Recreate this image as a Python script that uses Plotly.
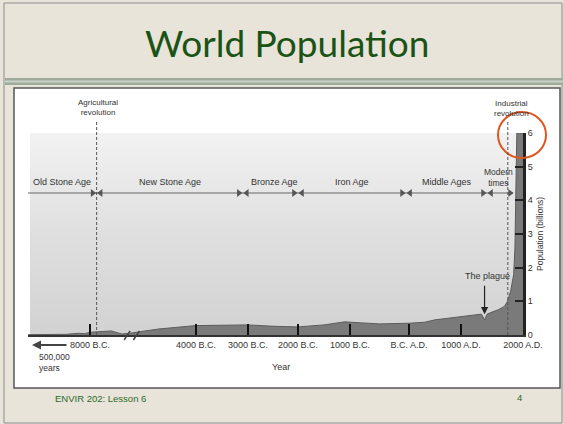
import numpy as np
import plotly.graph_objects as go

W, H = 563, 424

# population curve (billions)
pop_years = [-500000, -200000, -100000, -50000, -8000, -7200, -6800, -6500, -6100, -5400,
             -4000, -3500, -3000, -2500, -2000, -1500, -1100, -800, -500, 0, 300, 500,
             1000, 1200, 1330, 1380, 1420, 1500, 1600, 1700, 1750, 1800, 1850, 1870,
             1885, 1900, 2000]
pop_billions = [0.01, 0.02, 0.05, 0.04, 0.08, 0.12, 0.03, 0.05, 0.1, 0.18,
                0.28, 0.3, 0.3, 0.26, 0.24, 0.3, 0.39, 0.36, 0.33, 0.35, 0.38, 0.45,
                0.54, 0.58, 0.62, 0.45, 0.62, 0.68, 0.75, 0.85, 1.0, 1.3, 1.8, 2.6,
                4.0, 6.0, 6.0]

tick_years = [-8000, -4000, -3000, -2000, -1000, 0, 1000, 2000]
tick_labels = ["8000 B.C.", "4000 B.C.", "3000 B.C.", "2000 B.C.", "1000 B.C.",
               "B.C. A.D.", "1000 A.D.", "2000 A.D."]
pop_ticks = [0, 1, 2, 3, 4, 5, 6]

period_names = ["Old Stone Age", "New Stone Age", "Bronze Age", "Iron Age",
                "Middle Ages", "Modern<br>times"]
period_bounds = [-500000, -7750, -3100, -2000, -50, 1420, 1840]

agri_year = -7750
indus_year = 1755
plague_year = 1380

# broken time axis: year -> horizontal position in px
scale_years = [-500000, -8000, -4000, -3000, -2000, -1000, 0, 1000, 2000]
scale_px = [28, 90, 196, 248, 298, 350, 409, 461, 523]


def xpos(years):
    return np.interp(years, scale_years, scale_px)


Y0_PX, Y6_PX = 335, 133


def yval(p):
    # pixel row -> billions
    return (Y0_PX - p) * 6 / (Y0_PX - Y6_PX)


def px(x):
    return x / W


def py(y):
    return 1 - y / H


GREEN = "#1b5317"
TXT = "#333333"
FONT = "Liberation Sans"

fig = go.Figure()

# gray gradient band behind the curve
fig.add_trace(go.Scatter(
    x=[30, 523, 523, 30, 30], y=[0, 0, 6, 6, 0], mode="lines",
    fill="toself", line=dict(width=0),
    fillgradient=dict(type="vertical",
                      colorscale=[[0, "#d2d2d2"], [0.5, "#dfdfdf"], [1, "#f2f2f2"]]),
    hoverinfo="skip", showlegend=False))

# population
fig.add_trace(go.Scatter(
    x=xpos(pop_years), y=pop_billions, mode="lines", fill="tozeroy",
    fillcolor="#7a7a7a", line=dict(color="#5c5c5c", width=1),
    showlegend=False))

# period arrows
y_arrow = yval(193)
x_end = xpos(period_bounds[-1])
fig.add_trace(go.Scatter(
    x=[28, x_end], y=[y_arrow, y_arrow], mode="lines",
    line=dict(color="#666666", width=1.2), hoverinfo="skip", showlegend=False))

mx, msym = [], []
for b in period_bounds[1:-1]:
    mx += [xpos(b) - 4, xpos(b) + 4]
    msym += ["triangle-right", "triangle-left"]
mx.append(x_end - 3)
msym.append("triangle-right")
fig.add_trace(go.Scatter(
    x=mx, y=[y_arrow] * len(mx), mode="markers",
    marker=dict(symbol=msym, size=7, color="#555555"),
    hoverinfo="skip", showlegend=False))

shapes = [
    # slide frame
    dict(type="rect", xref="paper", yref="paper", x0=px(4), x1=px(562), y0=py(423), y1=py(3),
         line=dict(color="#8c8c8c", width=1), layer="below"),
    dict(type="rect", xref="paper", yref="paper", x0=px(5), x1=px(563), y0=py(85), y1=py(78),
         fillcolor="#9eab9c", line=dict(width=0), layer="below"),
    dict(type="rect", xref="paper", yref="paper", x0=px(5), x1=px(563), y0=py(82.5), y1=py(80.5),
         fillcolor="#c9d2c7", line=dict(width=0), layer="below"),
    # image box
    dict(type="rect", xref="paper", yref="paper", x0=px(14), x1=px(560), y0=py(388), y1=py(88),
         fillcolor="white", line=dict(color="#555555", width=1.5), layer="below"),
    # orange highlight circle
    dict(type="circle", xref="paper", yref="paper", x0=px(498), x1=px(546), y0=py(158), y1=py(112),
         line=dict(color="#e1561f", width=2)),
]
for yr in [agri_year, indus_year]:
    shapes.append(dict(type="line", xref="x", yref="paper", x0=xpos(yr), x1=xpos(yr),
                       y0=py(Y0_PX), y1=py(121),
                       line=dict(color="#555555", width=1, dash="3px,2px")))
# axis break marks
for xb in [xpos(-6600), xpos(-6250)]:
    shapes.append(dict(type="line", xref="x", yref="paper", x0=xb - 3, x1=xb + 3,
                       y0=py(340), y1=py(331), line=dict(color="#444444", width=1.5)))

ann = []


def label(text, x, y, size=9, color=TXT, family=FONT, xanchor="center", align="center"):
    ann.append(dict(text=text, x=px(x), y=py(y), xref="paper", yref="paper",
                    showarrow=False, xanchor=xanchor, yanchor="middle", align=align,
                    font=dict(size=size, color=color, family=family)))


label("World Population", 287, 42, size=37, color=GREEN, family="Lato")
label("Agricultural<br>revolution", 98, 107, size=8)
label("Industrial<br>revolution", 511, 109, size=8)

for i, name in enumerate(period_names):
    xc = (xpos(period_bounds[i]) + xpos(period_bounds[i + 1])) / 2
    if "<br>" in name:
        label(name, xc - 2, 178, size=8.5)
    else:
        label(name, xc + (4 if name == "Bronze Age" else 0), 182, size=9)

label("The plague", 487, 276, size=9)
ann.append(dict(x=xpos(plague_year), y=0.62, xref="x", yref="y", text="",
                showarrow=True, arrowhead=2, arrowsize=1.2, arrowwidth=1.2,
                arrowcolor="#222222", ax=0, ay=-30, axref="pixel", ayref="pixel"))

ann.append(dict(x=px(32), y=py(345), xref="paper", yref="paper", text="",
                showarrow=True, arrowhead=2, arrowsize=1, arrowwidth=1.8,
                arrowcolor="#444444", ax=36, ay=0))
label("500,000<br>years", 37, 362, size=8.5, xanchor="left", align="left")
label("Year", 281, 367, size=9)
label("Population (billions)", 540, 234, size=8.5)
ann[-1]["textangle"] = -90

label("ENVIR 202: Lesson 6", 53, 398, size=9.5, color="#2a6a2a", xanchor="left")
label("4", 519, 397, size=9.5, color="#2a6a2a")

fig.update_layout(
    width=W, height=H,
    margin=dict(l=0, r=0, t=0, b=0),
    paper_bgcolor="#e9e4d9",
    plot_bgcolor="rgba(0,0,0,0)",
    shapes=shapes,
    annotations=ann,
    xaxis=dict(domain=[px(28), px(523)], range=[28, 523], automargin=False,
               tickvals=list(xpos(tick_years)), ticktext=tick_labels,
               ticks="inside", ticklen=11, tickwidth=2, tickcolor="#111111",
               showline=True, linecolor="#333333", linewidth=2,
               showgrid=False, zeroline=False,
               tickfont=dict(size=9, color=TXT, family=FONT)),
    yaxis=dict(domain=[py(Y0_PX), py(Y6_PX)], range=[0, 6], side="right", automargin=False,
               tickvals=pop_ticks, ticks="inside", ticklen=8, tickwidth=2,
               tickcolor="#222222", showline=True, linecolor="#222222", linewidth=3,
               showgrid=False, zeroline=False,
               tickfont=dict(size=9, color=TXT, family=FONT)),
)

fig.write_html(
    "out.html", config={"displayModeBar": False},
    post_script=("document.documentElement.style.margin = '0';"
                 "document.documentElement.style.overflow = 'hidden';"
                 "document.body.style.margin = '0';"
                 "document.body.style.overflow = 'hidden';"))
